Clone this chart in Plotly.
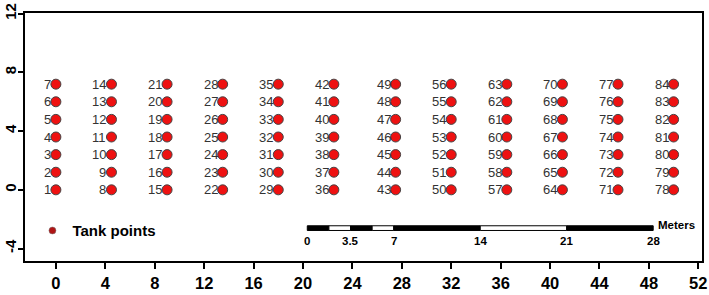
import plotly.graph_objects as go

# ---- data ----
column_x = [0, 4.5, 9, 13.5, 18, 22.5, 27.5, 32, 36.5, 41, 45.5, 50]
row_y = [0, 1.2, 2.4, 3.6, 4.8, 6.0, 7.2]
x_ticks = list(range(0, 53, 4))
y_ticks = [-4, 0, 4, 8, 12]

scale_origin = 20.35          # x position (m) where the scale bar starts
scale_y = [-2.77, -2.45]      # bottom/top of the scale bar
scale_breaks = [0, 1.75, 3.5, 5.25, 7, 14, 21, 28]
scale_fill = ["black", "white", "black", "white", "black", "white", "black"]
scale_labels = [0, 3.5, 7, 14, 21, 28]

xs, ys, ids = [], [], []
n = 1
for cx in column_x:
    for ry in row_y:
        xs.append(cx)
        ys.append(ry)
        ids.append(str(n))
        n += 1

SANS = "Liberation Sans, Arial, sans-serif"

fig = go.Figure()
fig.add_trace(go.Scatter(
    x=xs, y=ys, mode="markers",
    marker=dict(size=10, color="#ee1111", line=dict(color="#444444", width=1)),
    showlegend=False, cliponaxis=False, hoverinfo="skip",
))
# legend proxy
fig.add_trace(go.Scatter(
    x=[None], y=[None], mode="markers", name="<b>Tank points</b>",
    marker=dict(size=7, color="#b01515", line=dict(color="#777777", width=0.5)),
))

annotations = []
for x, y, t in zip(xs, ys, ids):
    annotations.append(dict(
        x=x, y=y, xref="x", yref="y", text=t, showarrow=False,
        xanchor="right", yanchor="middle", xshift=-4, borderpad=0,
        font=dict(family=SANS, size=13, color="#333333"),
    ))

# scale bar
shapes = []
for i in range(len(scale_breaks) - 1):
    shapes.append(dict(
        type="rect", xref="x", yref="y",
        x0=scale_origin + scale_breaks[i], x1=scale_origin + scale_breaks[i + 1],
        y0=scale_y[0], y1=scale_y[1],
        fillcolor=scale_fill[i], line=dict(color="black", width=1),
    ))
for v in scale_labels:
    annotations.append(dict(
        x=scale_origin + v, y=scale_y[0] - 0.75, xref="x", yref="y",
        text=f"<b>{v:g}</b>", showarrow=False, yanchor="middle", xanchor="center",
        font=dict(family=SANS, size=11.5, color="black"),
    ))
annotations.append(dict(
    x=scale_origin + scale_breaks[-1] + 0.2, y=scale_y[1] + 0.06, xref="x", yref="y",
    text="<b>Meters</b>", showarrow=False, xanchor="left", yanchor="middle",
    font=dict(family=SANS, size=11.5, color="black"),
))

fig.update_layout(
    width=709, height=295,
    margin=dict(l=25, r=7, t=13, b=34),
    paper_bgcolor="white", plot_bgcolor="white",
    shapes=shapes, annotations=annotations,
    showlegend=True,
    legend=dict(
        x=0.011, y=0.122, xanchor="left", yanchor="middle",
        bgcolor="rgba(0,0,0,0)",
        font=dict(family=SANS, size=15, color="black"),
    ),
    xaxis=dict(
        range=[-2.5, 52.3], tickvals=x_ticks,
        ticktext=[f"<b>{t}</b>" for t in x_ticks],
        showgrid=False, zeroline=False,
        showline=True, mirror=True, linecolor="black", linewidth=1.5,
        ticks="outside", ticklen=6, tickwidth=1.5, tickcolor="black",
        tickfont=dict(family=SANS, size=16.5, color="black"),
        automargin=False,
    ),
    yaxis=dict(
        range=[-4.85, 12.05], tickvals=y_ticks,
        ticktext=[f"<b>{t}</b>" for t in y_ticks],
        tickangle=-90, ticklabelstandoff=-4,
        showgrid=False, zeroline=False,
        showline=True, mirror=True, linecolor="black", linewidth=1.5,
        ticks="outside", ticklen=5, tickwidth=1.5, tickcolor="black",
        tickfont=dict(family=SANS, size=15, color="black"),
        automargin=False,
    ),
)

fig.write_html("out.html", post_script="document.body.style.margin='0px';",
               config={"displayModeBar": False})
